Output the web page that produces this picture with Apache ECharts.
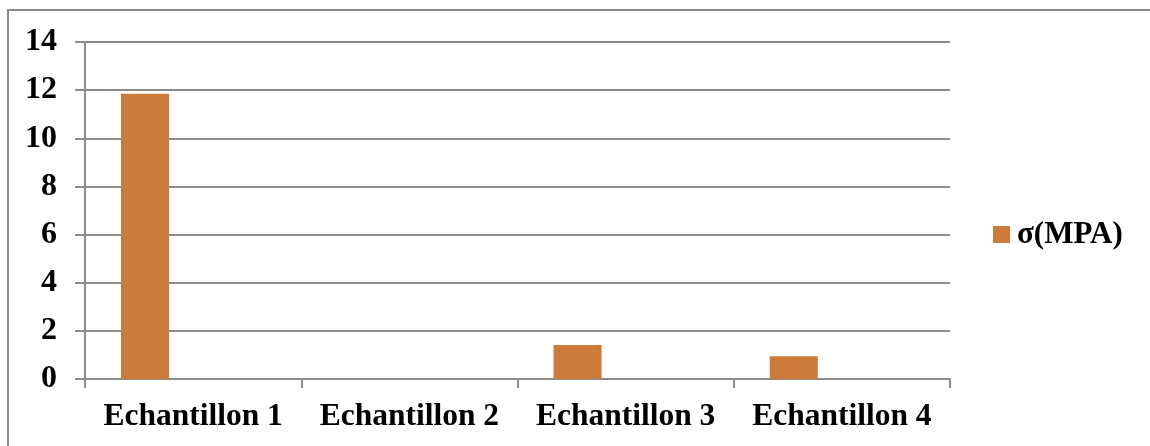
<!DOCTYPE html>
<html>
<head>
<meta charset="utf-8">
<script src="https://cdn.jsdelivr.net/npm/echarts@6/dist/echarts.min.js"></script>
<style>
  html, body { margin: 0; padding: 0; background: #fff; overflow: hidden; }
  #chart { width: 1150px; height: 446px; }
</style>
</head>
<body>
<div id="chart"></div>
<script>
// Samples on the category axis
const categories = ['Echantillon 1', 'Echantillon 2', 'Echantillon 3', 'Echantillon 4'];
// Stress per sample, in MPa
const sigmaValues = [11.85, 0, 1.41, 0.94];
// Two empty slots that keep the bar in the left third of each category
const emptySlotA = [null, null, null, null];
const emptySlotB = [null, null, null, null];
const seriesName = 'σ(MPA)';

const font = 'Liberation Serif, Times New Roman, serif';
const gridColor = '#8c8c8c';

const chart = echarts.init(document.getElementById('chart'), null, { renderer: 'canvas' });

chart.setOption({
  backgroundColor: '#ffffff',
  animation: false,
  graphic: [{
    type: 'polyline',
    shape: { points: [[8, 460], [8, 10], [1170, 10]] },
    style: { fill: null, stroke: '#8a8a8a', lineWidth: 2 },
    silent: true
  }],
  grid: { left: 85, right: 200, top: 42, bottom: 67, containLabel: false },
  legend: {
    data: [seriesName],
    orient: 'vertical',
    left: 988,
    top: 214,
    itemWidth: 17,
    itemHeight: 17,
    itemGap: 0,
    icon: 'rect',
    textStyle: { fontFamily: font, fontWeight: 'bold', fontSize: 31, color: '#000', padding: [0, 0, 0, 2] }
  },
  xAxis: {
    type: 'category',
    data: categories,
    axisLine: { lineStyle: { color: gridColor, width: 2 } },
    axisTick: { show: true, length: 9, interval: 0, lineStyle: { color: gridColor, width: 2 } },
    axisLabel: { fontFamily: font, fontWeight: 'bold', fontSize: 31.5, color: '#000', margin: 22, interval: 0 }
  },
  yAxis: {
    type: 'value',
    min: 0,
    max: 14,
    interval: 2,
    axisLine: { show: true, lineStyle: { color: gridColor, width: 2 } },
    axisTick: { show: true, length: 10, lineStyle: { color: gridColor, width: 2 } },
    splitLine: { show: true, lineStyle: { color: gridColor, width: 2 } },
    axisLabel: { fontFamily: font, fontWeight: 'bold', fontSize: 32, color: '#000', margin: 28 }
  },
  series: [
    {
      name: seriesName,
      type: 'bar',
      data: sigmaValues,
      barGap: '0%',
      barCategoryGap: '33.3%',
      itemStyle: { color: '#cd7b3a' }
    },
    { name: 'slotA', type: 'bar', data: emptySlotA, barGap: '0%', barCategoryGap: '33.3%' },
    { name: 'slotB', type: 'bar', data: emptySlotB, barGap: '0%', barCategoryGap: '33.3%' }
  ]
});
</script>
</body>
</html>
